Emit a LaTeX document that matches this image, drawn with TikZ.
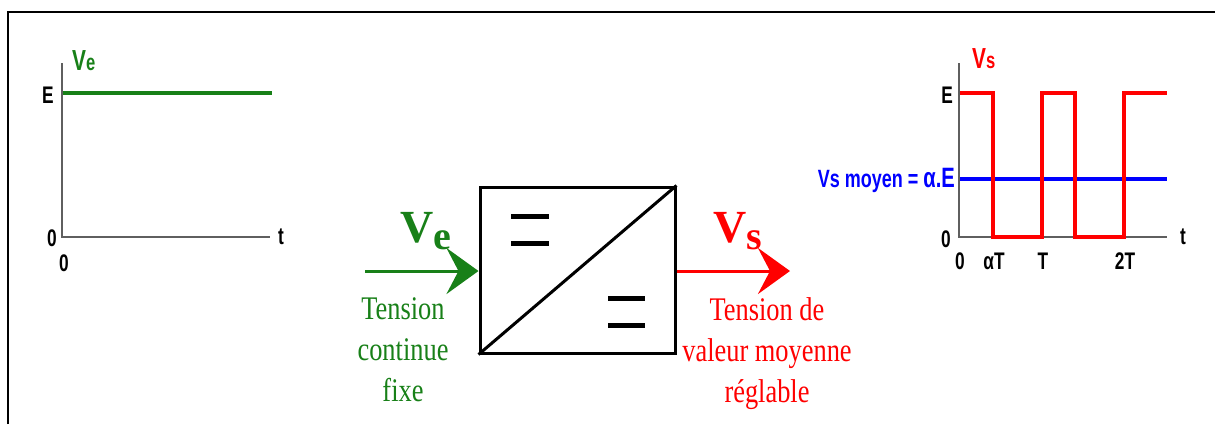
\documentclass[tikz,border=0pt]{standalone}
\usepackage{fontspec}
\setmainfont{Liberation Serif}
\newfontfamily\serifnarrow{Liberation Serif}[FakeStretch=0.8]
\newfontfamily\plotfont{Liberation Sans}[FakeStretch=0.72]
\usetikzlibrary{arrows.meta}
\definecolor{vegreen}{RGB}{24,128,24}
\definecolor{axisgray}{RGB}{95,95,95}
\tikzset{
  axis/.style={axisgray, line width=2.5pt},
  plotlabel/.style={font=\plotfont\bfseries\fontsize{24}{24}\selectfont, inner sep=0pt},
  biglabel/.style={font=\bfseries\fontsize{46}{46}\selectfont, inner sep=0pt, anchor=base west},
  bigarrow/.style={line width=3pt, -{Stealth[length=32pt, width=46pt, inset=12pt]}},
  bar/.style={line width=5pt},
  caption/.style={font=\serifnarrow\fontsize{33}{41}\selectfont, align=center, inner sep=0pt, anchor=north},
}
\begin{document}
\begin{tikzpicture}[x=1pt, y=-1pt]
\useasboundingbox (0,0) rectangle (1215,424);
\draw [line width=2pt] (8,424) -- (8,12) -- (1215,12);

% input signal
\draw [axis] (62,63) -- (62,237) -- (270,237);
\draw [vegreen, line width=4pt] (63,93) -- (272,93);
\draw (72,70) node[plotlabel, anchor=base west, text=vegreen] (ve) {\fontsize{29}{29}\selectfont V\fontsize{23}{23}\selectfont e};
\draw (48,95) node[plotlabel] (eleft) {E};
\draw (52,238) node[plotlabel] (zleft) {0};
\draw (64,263) node[plotlabel] (tzleft) {0};
\draw (281,237) node[plotlabel] (tleft) {t};

% converter
\draw (577.5,270) node[draw, line width=3pt, minimum width=195pt, minimum height=166pt] (conv) {};
\draw [line width=3pt] (conv.south west) -- (conv.north east);
\draw [bar] (511,216) -- (549,216);
\draw [bar] (511,243) -- (549,243);
\draw [bar] (608,298) -- (645,298);
\draw [bar] (608,325) -- (645,325);

\coordinate (vin) at (365,271);
\coordinate (vout) at (790,271);
\draw [bigarrow, vegreen] (vin) -- (conv.west |- vin);
\draw [bigarrow, red] (conv.east |- vout) -- (vout);
\draw (400,242) node[biglabel, text=vegreen] (velab) {V\raisebox{-7pt}{\fontsize{40}{40}\selectfont e}};
\draw (713,242) node[biglabel, text=red] (vslab) {V\raisebox{-7pt}{\fontsize{40}{40}\selectfont s}};
\draw (403,297) node[caption, text=vegreen] (incap) {Tension\\continue\\fixe};
\draw (767,297) node[caption, text=red] (outcap) {Tension de\\valeur moyenne\\réglable};

% output signal
\draw [axis] (959,63) -- (959,237) -- (1167,237);
\draw [blue, line width=4pt] (960,179) -- (1167,179);
\draw [red, line width=3.5pt] (960,93) -- (993,93) -- (993,237) -- (1042,237) -- (1042,93) -- (1075,93)
  -- (1075,237) -- (1124,237) -- (1124,93) -- (1167,93);
\draw (972,68) node[plotlabel, anchor=base west, text=red] (vs) {\fontsize{29}{29}\selectfont V\fontsize{23}{23}\selectfont s};
\draw (955,180) node[plotlabel, anchor=east, text=blue] (vmoy) {\fontsize{25}{25}\selectfont Vs moyen = \fontsize{28}{28}\selectfont α.E};
\draw (947,95) node[plotlabel] (eright) {E};
\draw (946,239) node[plotlabel] (zright) {0};
\draw (960,261) node[plotlabel] (tzright) {0};
\draw (994,261) node[plotlabel] (at) {αT};
\draw (1043,261) node[plotlabel] (tone) {T};
\draw (1125,261) node[plotlabel] (ttwo) {2T};
\draw (1183,237) node[plotlabel] (tright) {t};
\end{tikzpicture}
\end{document}
